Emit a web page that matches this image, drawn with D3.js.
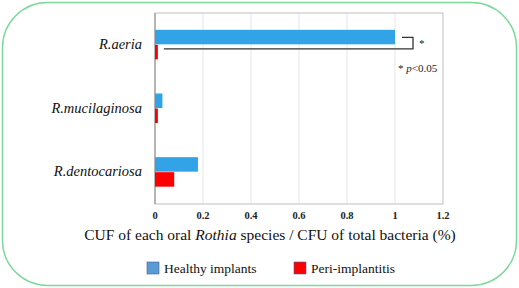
<!DOCTYPE html>
<html><head><meta charset="utf-8">
<script src="https://cdn.jsdelivr.net/npm/d3@7"></script>
<style>body{margin:0;background:#fff}svg{display:block}
svg text{font-family:"Liberation Serif","Times New Roman",Times,"DejaVu Serif",serif}</style>
</head><body>
<svg id="c" width="519" height="288"></svg>
<script>
const categories = ["R.aeria", "R.mucilaginosa", "R.dentocariosa"];
const seriesNames = ["Healthy implants", "Peri-implantitis"];
const healthy = [1.0, 0.031, 0.179];
const peri = [0.012, 0.012, 0.08];
const ticks = [0, 0.2, 0.4, 0.6, 0.8, 1, 1.2];
const colors = ["#33a3e8", "#ff0000"];
const legendColors = ["#5b9bd5", "#ff0000"];

const svg = d3.select("#c");

svg.append("rect").attr("x", 2.5).attr("y", 2.5).attr("width", 514).attr("height", 283)
  .attr("rx", 45).attr("ry", 45).attr("fill", "#fff").attr("stroke", "#7dd89b").attr("stroke-width", 1.5);

const L = 155, R = 443, T = 13, B = 204;
const x = d3.scaleLinear().domain([0, 1.2]).range([L, R]);
const y0 = d3.scaleBand().domain(categories).range([T, B]);
const y1 = d3.scaleBand().domain(seriesNames).range([y0.bandwidth()/2 - 15, y0.bandwidth()/2 + 15]);

// grid
svg.append("g").selectAll("line").data(ticks.slice(1, -1)).join("line")
  .attr("x1", d => x(d)).attr("x2", d => x(d)).attr("y1", T).attr("y2", B)
  .attr("stroke", "#e6e6e6").attr("stroke-width", 1);
// frame
svg.append("rect").attr("x", L).attr("y", T).attr("width", R - L).attr("height", B - T)
  .attr("fill", "none").attr("stroke", "#bfbfbf").attr("stroke-width", 1);
svg.append("line").attr("x1", L).attr("x2", L).attr("y1", T).attr("y2", B).attr("stroke", "#999").attr("stroke-width", 1.2);

const data = categories.map((c, i) => ({c, vals: [healthy[i], peri[i]]}));
const g = svg.append("g").selectAll("g").data(data).join("g")
  .attr("transform", d => `translate(0,${y0(d.c)})`);
g.selectAll("rect").data(d => d.vals.map((v, j) => ({v, s: seriesNames[j], j}))).join("rect")
  .attr("x", x(0)).attr("y", d => y1(d.s)).attr("width", d => x(d.v) - x(0)).attr("height", y1.bandwidth() - 0.5)
  .attr("fill", d => colors[d.j]);

// category labels
svg.append("g").selectAll("text").data(categories).join("text")
  .attr("x", 142).attr("y", d => y0(d) + y0.bandwidth()/2 + 4)
  .attr("text-anchor", "end").attr("font-style", "italic")
  .attr("font-size", 14.5).attr("fill", "#111").text(d => d);

// tick labels
svg.append("g").selectAll("text").data(ticks).join("text")
  .attr("x", d => x(d)).attr("y", 219).attr("text-anchor", "middle")
  .attr("font-weight", "bold").attr("font-size", 10.5).attr("fill", "#222")
  .text(d => d);

// axis title
const t = svg.append("text").attr("x", 270).attr("y", 240).attr("text-anchor", "middle")
  .attr("font-size", 15.5).attr("fill", "#111");
t.append("tspan").text("CUF of each oral ");
t.append("tspan").attr("font-style", "italic").text("Rothia");
t.append("tspan").text(" species / CFU of total bacteria  (%)");

// significance bracket
const ya = y0("R.aeria");
const yTop = ya + y1("Healthy implants") + y1.bandwidth()/2;
const yBot = ya + y1("Peri-implantitis") + 4;
svg.append("path").attr("d", `M${x(1.0)+7},${yTop}H${x(1.0)+18}V${yBot}H${x(peri[0])+6}`)
  .attr("fill", "none").attr("stroke", "#333").attr("stroke-width", 1.3);
svg.append("text").attr("x", 419).attr("y", 47).attr("font-size", 11).attr("fill", "#222").text("*");
const p = svg.append("text").attr("x", 398).attr("y", 72).attr("font-size", 11).attr("fill", "#222");
p.append("tspan").text("* ");
p.append("tspan").attr("font-style", "italic").text("p");
p.append("tspan").text("<0.05");

// legend
const legX = [147, 294];
const lg = svg.append("g").selectAll("g").data(seriesNames).join("g")
  .attr("transform", (d, i) => `translate(${legX[i]},262)`);
lg.append("rect").attr("width", 12).attr("height", 12).attr("fill", (d, i) => legendColors[i])
  .attr("stroke", "#4a5a9a").attr("stroke-width", 0.6);
lg.append("text").attr("x", 17).attr("y", 11).attr("font-size", 13.5).attr("fill", "#111").text(d => d);
</script>
</body></html>
